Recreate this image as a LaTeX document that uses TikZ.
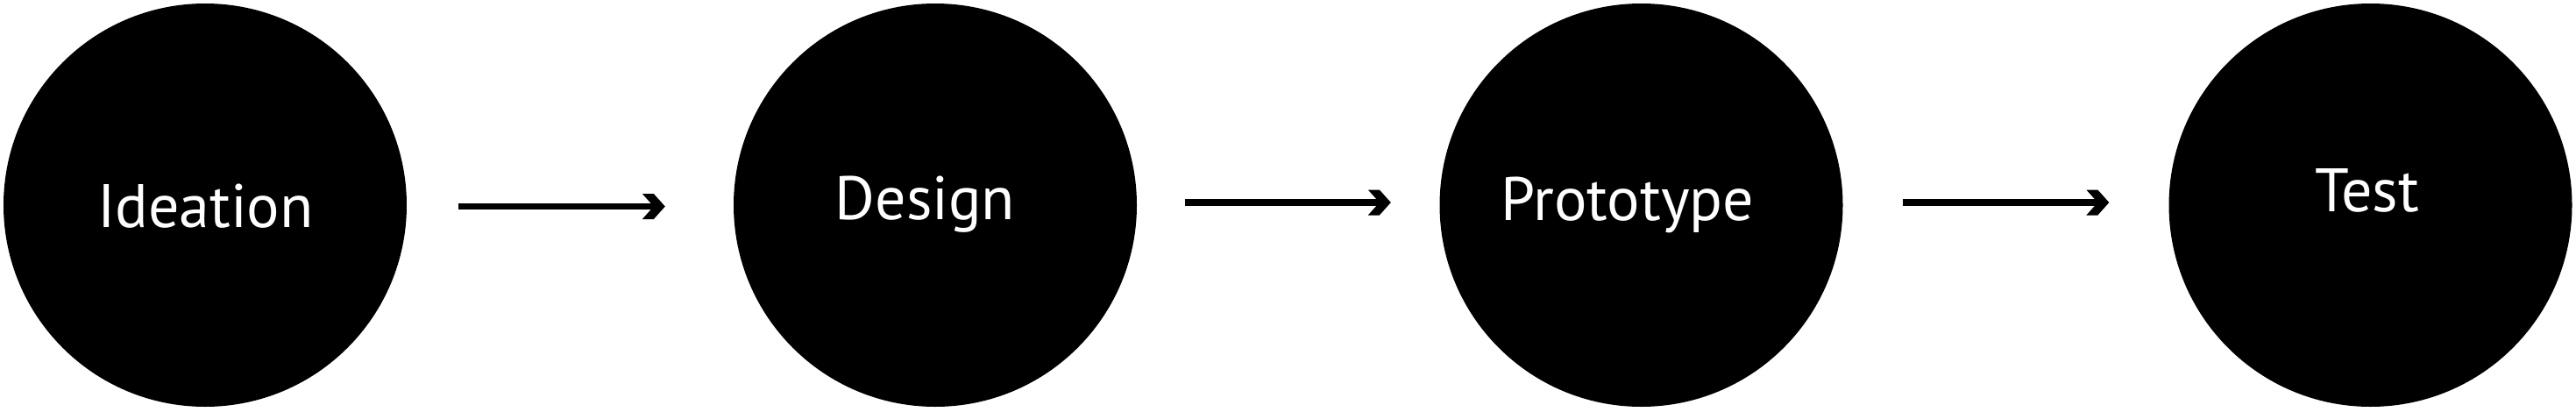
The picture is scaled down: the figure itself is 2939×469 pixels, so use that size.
\documentclass[tikz,border=0pt]{standalone}
\usepackage{fontspec}
\setmainfont{PT Sans}
\pgfdeclarearrow{
  name = Chev,
  setup code = {
    \pgfarrowssettipend{0pt}
    \pgfarrowssetlineend{-8pt}
    \pgfarrowssetbackend{-26pt}
  },
  drawing code = {
    \pgfpathmoveto{\pgfpoint{0pt}{0pt}}
    \pgfpathlineto{\pgfpoint{-13pt}{14.5pt}}
    \pgfpathlineto{\pgfpoint{-26pt}{14.5pt}}
    \pgfpathlineto{\pgfpoint{-13pt}{0pt}}
    \pgfpathlineto{\pgfpoint{-26pt}{-14.5pt}}
    \pgfpathlineto{\pgfpoint{-13pt}{-14.5pt}}
    \pgfpathclose
    \pgfusepathqfill
  }
}
\tikzset{
  stage/.style={circle, fill=black, draw=none, minimum size=460pt, inner sep=0pt},
  lbl/.style={text=white, font=\fontsize{70}{84}\selectfont, inner sep=0pt, anchor=base},
  conn/.style={line width=7.5pt, -Chev}
}
\begin{document}
\begin{tikzpicture}[x=1pt,y=-1pt]
\useasboundingbox (0,0) rectangle (2939,469);
\node[stage] (c1) at (234,234) {};
\node[stage] (c2) at (1067,234) {};
\node[stage] (c3) at (1872.5,234) {};
\node[stage] (c4) at (2704.5,234) {};
\node[lbl] (t1) at (234.5,259) {Ideation};
\node[lbl] (t2) at (1055.5,250) {Design};
\node[lbl] (t3) at (1857,251) {Prototype};
\node[lbl] (t4) at (2700.5,241) {Test};
\draw[conn] ([shift={(59,1.5)}]c1.east) -- ([shift={(-78,1.5)}]c2.west);
\draw[conn] ([shift={(55,-3)}]c2.east) -- ([shift={(-55.5,-3)}]c3.west);
\draw[conn] ([shift={(68.5,-3)}]c3.east) -- ([shift={(-68,-3)}]c4.west);
\end{tikzpicture}
\end{document}
